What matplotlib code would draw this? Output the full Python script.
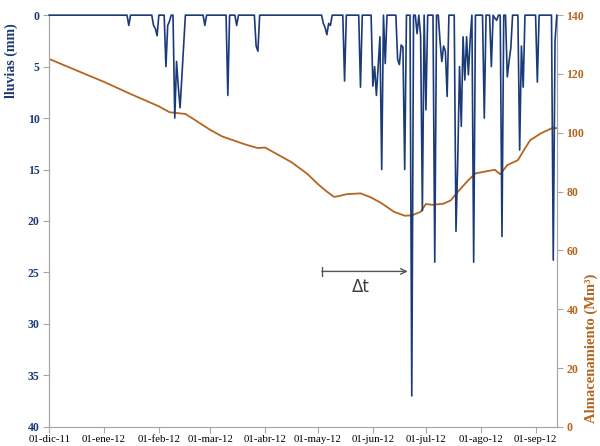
import numpy as np
import pandas as pd
import matplotlib
matplotlib.use("Agg")
import matplotlib.pyplot as plt

# --- DATOS ---
start = pd.Timestamp("2011-12-01")
n_days = 288  # 01-dic-11 .. 13-sep-12

# lluvias diarias (dia desde 01-dic-11, mm); el resto de dias = 0
rain_days = [45, 59, 60, 61, 66, 67, 68, 71, 72, 73, 74, 75, 76, 88, 101, 106, 117, 118,
             155, 156, 157, 158, 159, 167, 176,
             183, 184, 185, 186, 187, 188, 190,
             197, 198, 199, 200, 201, 205, 208,
             210, 211, 213, 218, 221, 222, 223, 224, 225,
             230, 231, 232, 233, 234, 235, 236, 237, 238, 240,
             246, 250, 252, 253, 256, 259, 260, 261, 266, 267, 268, 276, 285, 286]
rain_mm = [1.0, 1.0, 1.3, 2.0, 5.0, 1.0, 0.6, 10.0, 4.5, 7.0, 9.0, 6.0, 3.0, 1.0, 7.8, 1.0, 3.0, 3.5,
           0.8, 1.2, 1.9, 0.8, 1.0, 6.4, 7.0,
           6.9, 5.0, 7.8, 5.0, 2.1, 15.0, 4.7,
           4.3, 4.8, 2.9, 3.1, 15.0, 37.0, 1.8,
           2.0, 19.0, 9.2, 24.0, 2.6, 4.5, 3.0, 3.5, 7.9,
           21.0, 14.1, 5.0, 10.8, 2.1, 6.3, 2.1, 5.8, 2.4, 24.0,
           10.0, 5.0, 0.3, 0.5, 21.5, 6.0, 4.5, 3.2, 13.1, 3.0, 7.0, 6.5, 23.8, 2.5]

# almacenamiento (dia desde 01-dic-11, Mm3)
storage_days = [0, 31, 46, 62, 68, 77, 81, 91, 98, 111, 118, 122, 128, 137, 146, 152, 157,
                161, 164, 168, 176, 182, 188, 195, 201, 205, 210, 213, 215, 217, 223,
                227, 231, 237, 241, 249, 252, 255, 259, 265, 269, 272, 278, 284, 287]
storage_vals = [125.1, 117.3, 113.2, 109.0, 107.0, 106.4, 104.9, 101.0, 98.7, 96.0, 94.8, 95.0,
                93.0, 90.0, 86.0, 82.5, 80.0, 78.2, 78.5, 79.1, 79.4, 78.0, 76.0, 73.1, 71.8,
                71.9, 73.1, 75.8, 75.6, 75.5, 75.9, 77.0, 79.9, 83.9, 86.2, 87.1, 87.4, 85.9,
                89.0, 90.7, 94.7, 97.5, 99.8, 101.5, 101.6]

month_labels = ["01-dic-11", "01-ene-12", "01-feb-12", "01-mar-12", "01-abr-12",
                "01-may-12", "01-jun-12", "01-jul-12", "01-ago-12", "01-sep-12"]

# --- SERIES ---
dates = pd.date_range(start, periods=n_days, freq="D")
rain = np.zeros(n_days)
rain[rain_days] = rain_mm
storage_dates = start + pd.to_timedelta(storage_days, unit="D")
month_ticks = pd.date_range(start, periods=len(month_labels), freq="MS")

navy = "#1B3A78"
brown = "#B5651D"
grey = "#A6A6A6"
serif = "Liberation Serif"

fig = plt.figure(figsize=(6, 4.46), dpi=100)
ax = fig.add_axes([0.082, 0.043, 0.846, 0.923])
ax2 = ax.twinx()

ax2.plot(storage_dates, storage_vals, color=brown, lw=1.3)
ax.plot(dates, rain, color=navy, lw=1.2, clip_on=False, zorder=3)

ax.set_zorder(ax2.get_zorder() + 1)
ax.patch.set_visible(False)

ax.set_xlim(dates[0], dates[-1])
ax.set_ylim(40, 0)
ax2.set_ylim(0, 140)
ax.set_yticks(range(0, 41, 5))
ax2.set_yticks(range(0, 141, 20))
ax.set_xticks(month_ticks)
ax.set_xticklabels(month_labels)

for a in (ax, ax2):
    for s in a.spines.values():
        s.set_color(grey)
    a.spines["top"].set_visible(False)

ax.tick_params(axis="x", length=4, color=grey, labelsize=7.8, pad=2)
ax.tick_params(axis="y", length=4, color=grey, labelsize=8.5, labelcolor=navy, pad=3)
ax2.tick_params(axis="y", length=4, color=grey, labelsize=8.5, labelcolor=brown, pad=3)
for lab in ax.get_xticklabels():
    lab.set_fontfamily(serif)
for lab in ax.get_yticklabels():
    lab.set_fontfamily(serif)
    lab.set_fontweight("bold")
for lab in ax2.get_yticklabels():
    lab.set_fontfamily(serif)
    lab.set_fontweight("bold")

ax.set_ylabel("lluvias (mm)", family=serif, weight="bold", color=navy, fontsize=10)
ax.yaxis.set_label_coords(-0.062, 0.89)
ax2.set_ylabel("Almacenamiento (Mm³)", family=serif, weight="bold", color=brown, fontsize=10.5)
ax2.yaxis.set_label_coords(1.055, 0.19)

# flecha delta t
ax.annotate("", xy=(start + pd.Timedelta(days=202.7), 24.9),
            xytext=(start + pd.Timedelta(days=154.2), 24.9),
            arrowprops=dict(arrowstyle="]->, widthA=0.35, lengthA=0", color="#555555",
                            lw=1.0, shrinkA=0, shrinkB=0))
ax.text(start + pd.Timedelta(days=176), 26.4, "Δt", fontsize=12, color="#404040",
        ha="center", va="center")

plt.savefig("out.png", dpi=100)
